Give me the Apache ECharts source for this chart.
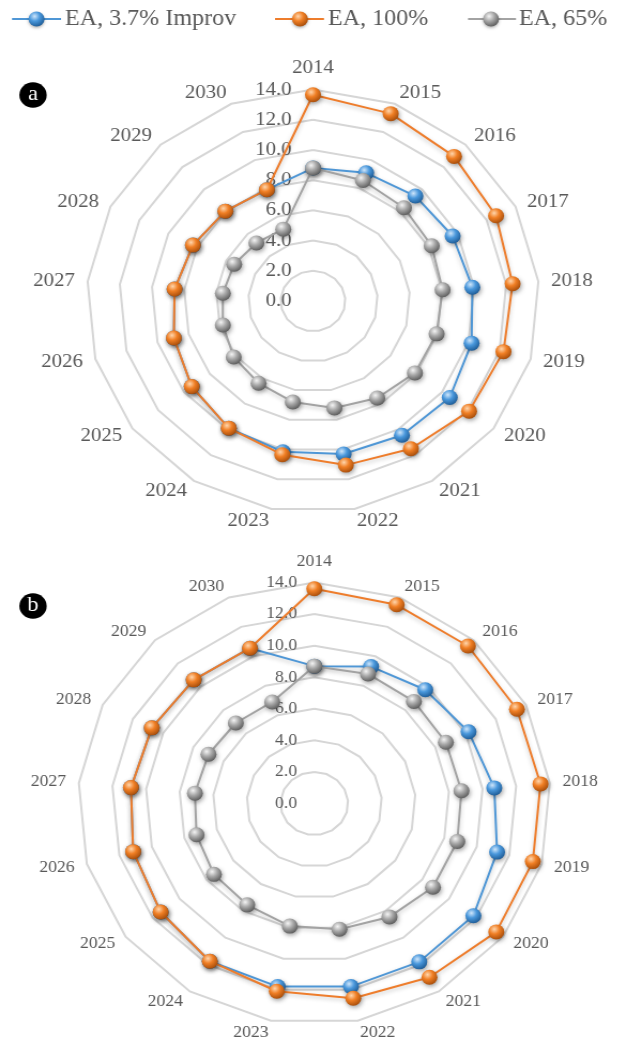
<!DOCTYPE html>
<html>
<head>
<meta charset="utf-8">
<script src="https://cdn.jsdelivr.net/npm/echarts@6/dist/echarts.min.js"></script>
<style>
  html, body { margin: 0; padding: 0; background: #ffffff; overflow: hidden; }
  #wrap { width: 617px; height: 1041px; overflow: hidden; position: relative; }
  /* the figure is drawn slightly wider than tall */
  #chart { width: 577px; height: 1041px; transform: scaleX(1.07); transform-origin: 0 0; }
</style>
</head>
<body>
<div id="wrap"><div id="chart"></div></div>
<script>
// Categories (years around the radar, clockwise from the top)
const years = ['2014', '2015', '2016', '2017', '2018', '2019', '2020', '2021', '2022',
               '2023', '2024', '2025', '2026', '2027', '2028', '2029', '2030'];

// Series names
const seriesNames = ['EA, 3.7% Improv', 'EA, 100%', 'EA, 65%'];

// Panel a values
const aImprov = [8.8, 9.1, 9.4, 9.65, 9.9, 10.2, 10.6, 10.45, 10.3, 10.15, 9.9, 9.4, 8.95, 8.6, 8.3, 8.05, 7.9];
const a100    = [13.65, 13.3, 12.95, 12.65, 12.4, 12.25, 12.1, 11.5, 11.05, 10.35, 9.9, 9.4, 8.95, 8.6, 8.3, 8.05, 7.9];
const a65     = [8.8, 8.55, 8.35, 8.2, 8.05, 7.95, 7.9, 7.55, 7.2, 6.8, 6.4, 6.15, 5.8, 5.6, 5.45, 5.2, 5.1];

// Panel b values
const bImprov = [8.7, 9.3, 9.75, 10.2, 10.7, 11.25, 11.8, 11.8, 11.8, 11.8, 11.75, 11.4, 11.15, 10.9, 10.75, 10.6, 10.55];
const b100    = [13.6, 13.5, 13.5, 13.4, 13.45, 13.45, 13.5, 12.95, 12.55, 12.1, 11.75, 11.4, 11.15, 10.9, 10.75, 10.6, 10.55];
const b65     = [8.7, 8.8, 8.75, 8.7, 8.75, 8.8, 8.8, 8.45, 8.1, 7.9, 7.55, 7.45, 7.25, 7.1, 7.0, 6.9, 6.9];

// Radial scale: 0.0 to 14.0 in steps of 2.0
const axisMin = 0;
const axisMax = 14;
const axisStep = 2;

const FONT = '"Liberation Serif", "Times New Roman", serif';
const TEXT = '#595959';

// Radar indicators run counter-clockwise, so reorder to keep the years clockwise
const order = [0].concat(years.map((_, i) => i).slice(1).reverse());
const reorder = arr => order.map(i => arr[i]);

const palette = [
  { line: '#4f97d6', light: '#cfe6fb', base: '#4a98dc', dark: '#1d5a94' },
  { line: '#ee7d2c', light: '#ffd6ad', base: '#f07f25', dark: '#a54c0a' },
  { line: '#a3a3a3', light: '#f4f4f4', base: '#a9a9a9', dark: '#5a5a5a' }
];

function sphere(p) {
  return {
    type: 'radial', x: 0.38, y: 0.32, r: 0.72,
    colorStops: [
      { offset: 0, color: p.light },
      { offset: 0.45, color: p.base },
      { offset: 1, color: p.dark }
    ]
  };
}

function radarDef(cx, cy, r, nameSize, labelSize, labelMargin, nameGap) {
  return {
    center: [cx, cy],
    radius: r,
    startAngle: 90,
    shape: 'polygon',
    splitNumber: (axisMax - axisMin) / axisStep,
    nameGap: nameGap,
    axisName: { color: TEXT, fontFamily: FONT, fontSize: nameSize },
    indicator: order.map((i, k) => {
      const ind = { name: years[i], min: axisMin, max: axisMax };
      if (k === 0) {
        ind.axisLabel = {
          show: true, color: TEXT, fontFamily: FONT, fontSize: labelSize,
          margin: labelMargin, showMinLabel: true, showMaxLabel: true,
          formatter: v => Number(v).toFixed(1)
        };
      }
      return ind;
    }),
    splitLine: { lineStyle: { color: '#d6d6d6', width: 2 } },
    splitArea: { show: false },
    axisLine: { show: false },
    axisTick: { show: false },
    axisLabel: { show: false }
  };
}

function seriesFor(radarIndex, values, k) {
  const p = palette[k];
  return {
    type: 'radar',
    name: seriesNames[k],
    radarIndex: radarIndex,
    symbol: 'circle',
    symbolSize: 15,
    z: 2 + k,
    lineStyle: {
      color: p.line, width: 2,
      shadowColor: 'rgba(0,0,0,0.22)', shadowBlur: 4, shadowOffsetY: 2
    },
    itemStyle: {
      color: sphere(p),
      shadowColor: 'rgba(0,0,0,0.35)', shadowBlur: 4, shadowOffsetX: 1, shadowOffsetY: 2
    },
    data: [{ value: reorder(values), name: seriesNames[k] }]
  };
}

// Legend drawn as line + sphere + text (x positions in the unstretched frame)
const SX = 1.07;
const legendItems = [
  { x0: 12, x1: 61, cx: 36.5, tx: 65 },
  { x0: 275, x1: 324, cx: 300, tx: 328 },
  { x0: 468, x1: 516, cx: 491, tx: 519 }
];
const legendY = 19;
const graphics = [];
legendItems.forEach((it, k) => {
  graphics.push({
    type: 'line', shape: { x1: it.x0 / SX, y1: legendY, x2: it.x1 / SX, y2: legendY },
    style: { stroke: palette[k].line, lineWidth: 2 }
  });
  graphics.push({
    type: 'circle', shape: { cx: it.cx / SX, cy: legendY, r: 7.5 },
    style: { fill: sphere(palette[k]), shadowColor: 'rgba(0,0,0,0.3)', shadowBlur: 3, shadowOffsetY: 1.5 }
  });
  graphics.push({
    type: 'text', x: it.tx / SX, y: legendY,
    style: { text: seriesNames[k], fill: TEXT, font: '22.5px ' + FONT, textVerticalAlign: 'middle', textAlign: 'left' }
  });
});

// Panel badges
[['a', 95], ['b', 606]].forEach(([t, y]) => {
  graphics.push({ type: 'circle', shape: { cx: 33 / SX, cy: y, r: 12.8 }, style: { fill: '#000000' } });
  graphics.push({
    type: 'text', x: 33 / SX, y: y - 1,
    style: { text: t, fill: '#ffffff', font: '21px ' + FONT, textAlign: 'center', textVerticalAlign: 'middle' }
  });
});

const chart = echarts.init(document.getElementById('chart'), null, { renderer: 'canvas' });
chart.setOption({
  animation: false,
  backgroundColor: '#ffffff',
  radar: [
    radarDef(313 / SX, 301, 211.5, 19.5, 19.5, 20, 12),
    radarDef(314.3 / SX, 803.5, 221, 16.5, 16.5, 16, 12)
  ],
  graphic: graphics,
  series: [
    seriesFor(0, aImprov, 0), seriesFor(0, a100, 1), seriesFor(0, a65, 2),
    seriesFor(1, bImprov, 0), seriesFor(1, b100, 1), seriesFor(1, b65, 2)
  ]
});
</script>
</body>
</html>
